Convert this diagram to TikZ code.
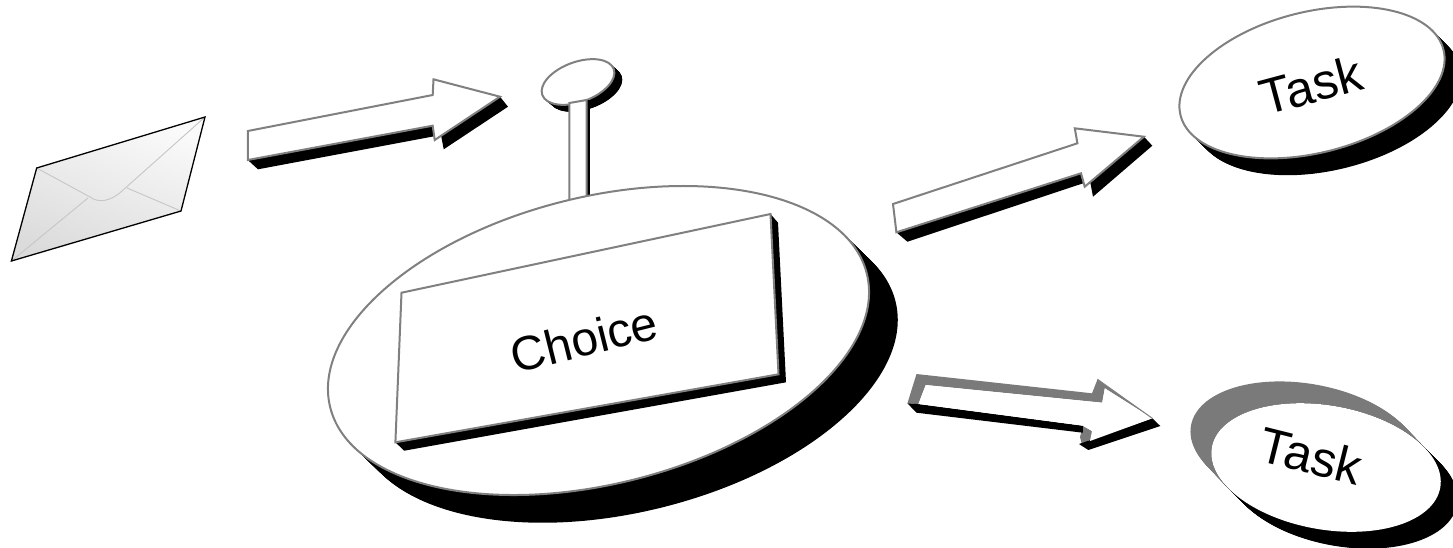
\documentclass[tikz,border=0pt]{standalone}
\usepackage{fontspec}
\setmainfont{Liberation Sans}
\usepackage{xcolor}
\usepackage{tikz}
\newcommand{\discside}[8]{%
  \foreach \t in {0,0.03,...,1.001}
    \fill[#8, shift={(#1+\t*#6,#2+\t*#7)}, rotate=#5] (0,0) ellipse [x radius=#3pt, y radius=#4pt];}
\newcommand{\disctop}[6]{%
  \filldraw[#6, shift={(#1,#2)}, rotate=#5] (0,0) ellipse [x radius=#3pt, y radius=#4pt];}

\begin{document}
\begin{tikzpicture}[
  x=1pt, y=-1pt,
  face/.style={draw=black!50, line width=2pt, fill=white, line join=miter},
  side/.style={fill=black},
  halftone/.style={fill=black!52},
  fold/.style={draw=gray!45, line width=0.9pt},
  label/.style={font=\fontsize{48}{50}\selectfont, inner sep=0pt},
  tasklabel/.style={label, font=\fontsize{50}{52}\selectfont}]
  \useasboundingbox (0,0) rectangle (1453,547);
  \shade[shading=axis, bottom color=gray!28, top color=gray!4, shading angle=-20]
    (36.7,168) -- (205,117) -- (181,211) -- (11.4,261) -- cycle;
  \draw[fold] (36.7,168) -- (90,197) .. controls (98,203) and (110,202) .. (122,191) -- (205,117);
  \draw[fold] (11.4,261) -- (88,198);
  \draw[fold] (181,211) -- (127,188);
  \draw[line width=1.3pt] (36.7,168) -- (205,117) -- (181,211) -- (11.4,261) -- cycle;

  \fill[side] (247.8,160) -- (258,169.3) -- (441,135) -- (443.7,149.3) -- (508,106.7) -- (500,96.7)
    -- (434.7,140) -- (432.7,125.7) -- cycle;
  \draw[face] (247.8,131) -- (432.7,95) -- (433.5,79.3) -- (500,96.7) -- (434.7,140) -- (432.7,125.7)
    -- (247.8,160) -- cycle;

  \discside{578}{82}{38}{20}{20}{8}{7}{side}
  \disctop{578}{82}{38}{20}{20}{face}
  \fill[side] (586.5,100) rectangle (589.5,197);
  \draw[face] (569.4,202) -- (569.4,103) -- (586.5,100) -- (586.5,197);

  \discside{598.5}{340.5}{276.5}{143.5}{14}{29}{28}{side}
  \disctop{598.5}{340.5}{276.5}{143.5}{14}{face}
  \fill[side] (395.4,442.3) -- (404.2,450.7) -- (786,382.3) -- (778,222.7) -- (770.5,214) -- cycle;
  \draw[face] (401.5,292.7) -- (770.5,214) -- (778.5,374.3) -- (395.4,442.3) -- cycle;
  \node[label, rotate=14] (choice) at (584,339) {Choice};

  \fill[side] (896.4,232.3) -- (907.4,241.7) -- (1090,181) -- (1093,196.7) -- (1152.3,145.7) -- (1143.9,136.7)
    -- (1084.7,186.7) -- (1081,173.3) -- cycle;
  \draw[face] (893,204) -- (1077.4,143.3) -- (1074.8,128.3) -- (1143.9,136.7) -- (1084.7,186.7) -- (1081,173.3)
    -- (896.4,232.3) -- cycle;

  \discside{1312}{82.5}{135.5}{70.5}{14}{17}{17}{side}
  \disctop{1312}{82.5}{135.5}{70.5}{14}{face}
  \node[tasklabel, rotate=15] (taskone) at (1311,85) {Task};

  \fill[halftone] (907.4,403.3) -- (916.5,374) -- (1092,393.3) -- (1097.5,379.3) -- (1152.3,418.3) -- (1104.8,388.3)
    -- (1102.2,402.7) -- (925.7,385) -- (918.4,404) -- cycle;
  \fill[halftone] (1082.8,425.7) -- (1092,431) -- (1093.8,437) -- (1082,445) -- (1080,437) -- cycle;
  \fill[side] (907.4,403.3) -- (916.5,412.7) -- (1082.8,432.7) -- (1082.8,425.7) -- (918.4,404) -- cycle;
  \fill[side] (1079,444) -- (1088.3,450) -- (1160.3,426) -- (1152.3,418.3) -- cycle;
  \fill[white] (925.7,385) -- (1102.2,402.7) -- (1104.8,388.3) -- (1152.3,418.3) -- (1090,441) -- (1092,431)
    -- (1082.8,425.7) -- (918.4,404) -- cycle;
  \draw[black!50, line width=1pt] (1097.5,379.3) -- (1152.3,418.3);

  \discside{1326}{467.5}{116}{62}{-10}{-21}{-22}{halftone}
  \discside{1326}{467.5}{116}{62}{-10}{17}{17}{side}
  \filldraw[fill=white, draw=none, shift={(1326,467.5)}, rotate=-10] (0,0) ellipse [x radius=116pt, y radius=62pt];
  \node[tasklabel, rotate=-14] (tasktwo) at (1311,456) {Task};
\end{tikzpicture}
\end{document}
